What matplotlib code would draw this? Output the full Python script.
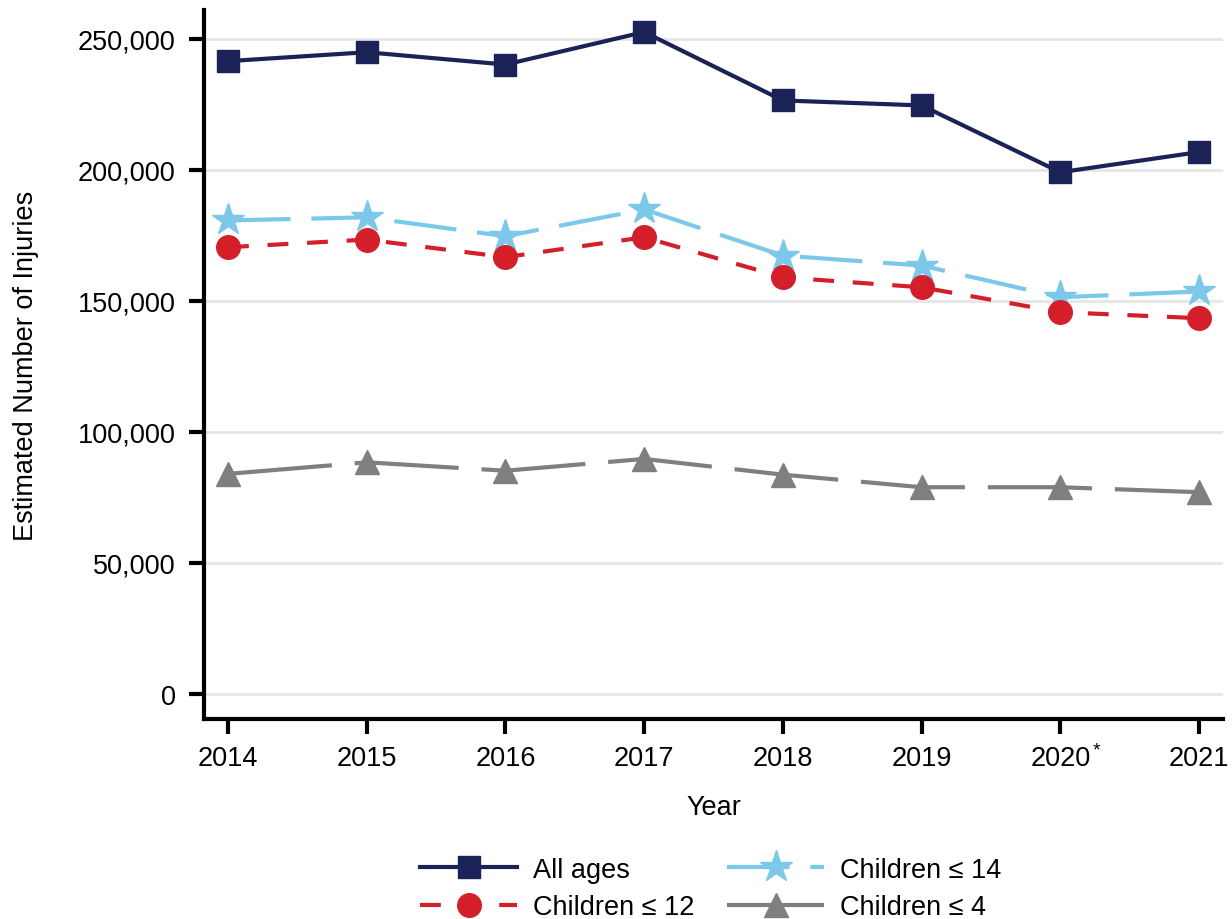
import matplotlib.pyplot as plt
import numpy as np

plt.rcParams['font.family'] = ['Liberation Sans', 'DejaVu Sans']

years = [2014, 2015, 2016, 2017, 2018, 2019, 2020, 2021]
year_labels = ['2014', '2015', '2016', '2017', '2018', '2019', '2020', '2021']

all_ages = [241500, 244900, 240200, 252600, 226500, 224600, 199100, 206800]
children_14 = [180700, 181900, 174700, 184900, 167300, 163500, 151400, 153600]
children_12 = [170500, 173400, 166700, 174300, 159000, 155200, 145700, 143400]
children_4 = [84000, 88400, 85200, 89700, 83700, 78900, 78900, 77000]

yticks = [0, 50000, 100000, 150000, 200000, 250000]
fs = 19.5

fig = plt.figure(figsize=(12.32, 9.2), dpi=100)
ax = fig.add_axes([0.1656, 0.2174, 0.8271, 0.7706])

ax.plot(years, children_4, color='#7f7f7f', lw=3, dashes=(25, 5.5),
        marker='^', ms=17, label='Children ≤ 4', zorder=3)
ax.plot(years, children_14, color='#7cc8ea', lw=3, dashes=(15, 5),
        marker='*', ms=24, label='Children ≤ 14', zorder=4)
ax.plot(years, children_12, color='#d41f2b', lw=3, dashes=(5, 4.5),
        marker='o', ms=17, label='Children ≤ 12', zorder=5)
ax.plot(years, all_ages, color='#1b2258', lw=3, marker='s', ms=16,
        label='All ages', zorder=6)

ax.set_xlim(2013.827, 2021.173)
ax.set_ylim(-9540, 261000)
ax.set_xticks(years)
ax.set_xticklabels(year_labels)
ax.set_yticks(yticks)
ax.set_yticklabels([f'{v:,}' for v in yticks])
ax.tick_params(labelsize=fs, width=3, length=10.5, direction='out')
ax.tick_params(axis='y', pad=10)
ax.tick_params(axis='x', pad=8)
ax.grid(axis='y', color='#e6e6e6', lw=2)
ax.set_axisbelow(True)

# footnote mark on 2020
ax.annotate('*', xy=(2020, 0), xycoords=('data', 'axes fraction'),
            xytext=(23, -16), textcoords='offset points',
            ha='left', va='top', fontsize=14)

for s in ['top', 'right']:
    ax.spines[s].set_visible(False)
for s in ['left', 'bottom']:
    ax.spines[s].set_linewidth(3)

ax.set_xlabel('Year', fontsize=fs, labelpad=17)
ax.set_ylabel('Estimated Number of Injuries', fontsize=fs)
ax.yaxis.set_label_coords(-0.162, 0.5)

h, l = ax.get_legend_handles_labels()
order = [3, 2, 1, 0]
ax.legend([h[i] for i in order], [l[i] for i in order], ncol=2,
          loc='upper center', bbox_to_anchor=(0.497, -0.16), frameon=False,
          fontsize=fs, handlelength=3.6, handletextpad=0.57,
          columnspacing=1.2, labelspacing=0.42, numpoints=1)

fig.savefig('out.png', dpi=100)
